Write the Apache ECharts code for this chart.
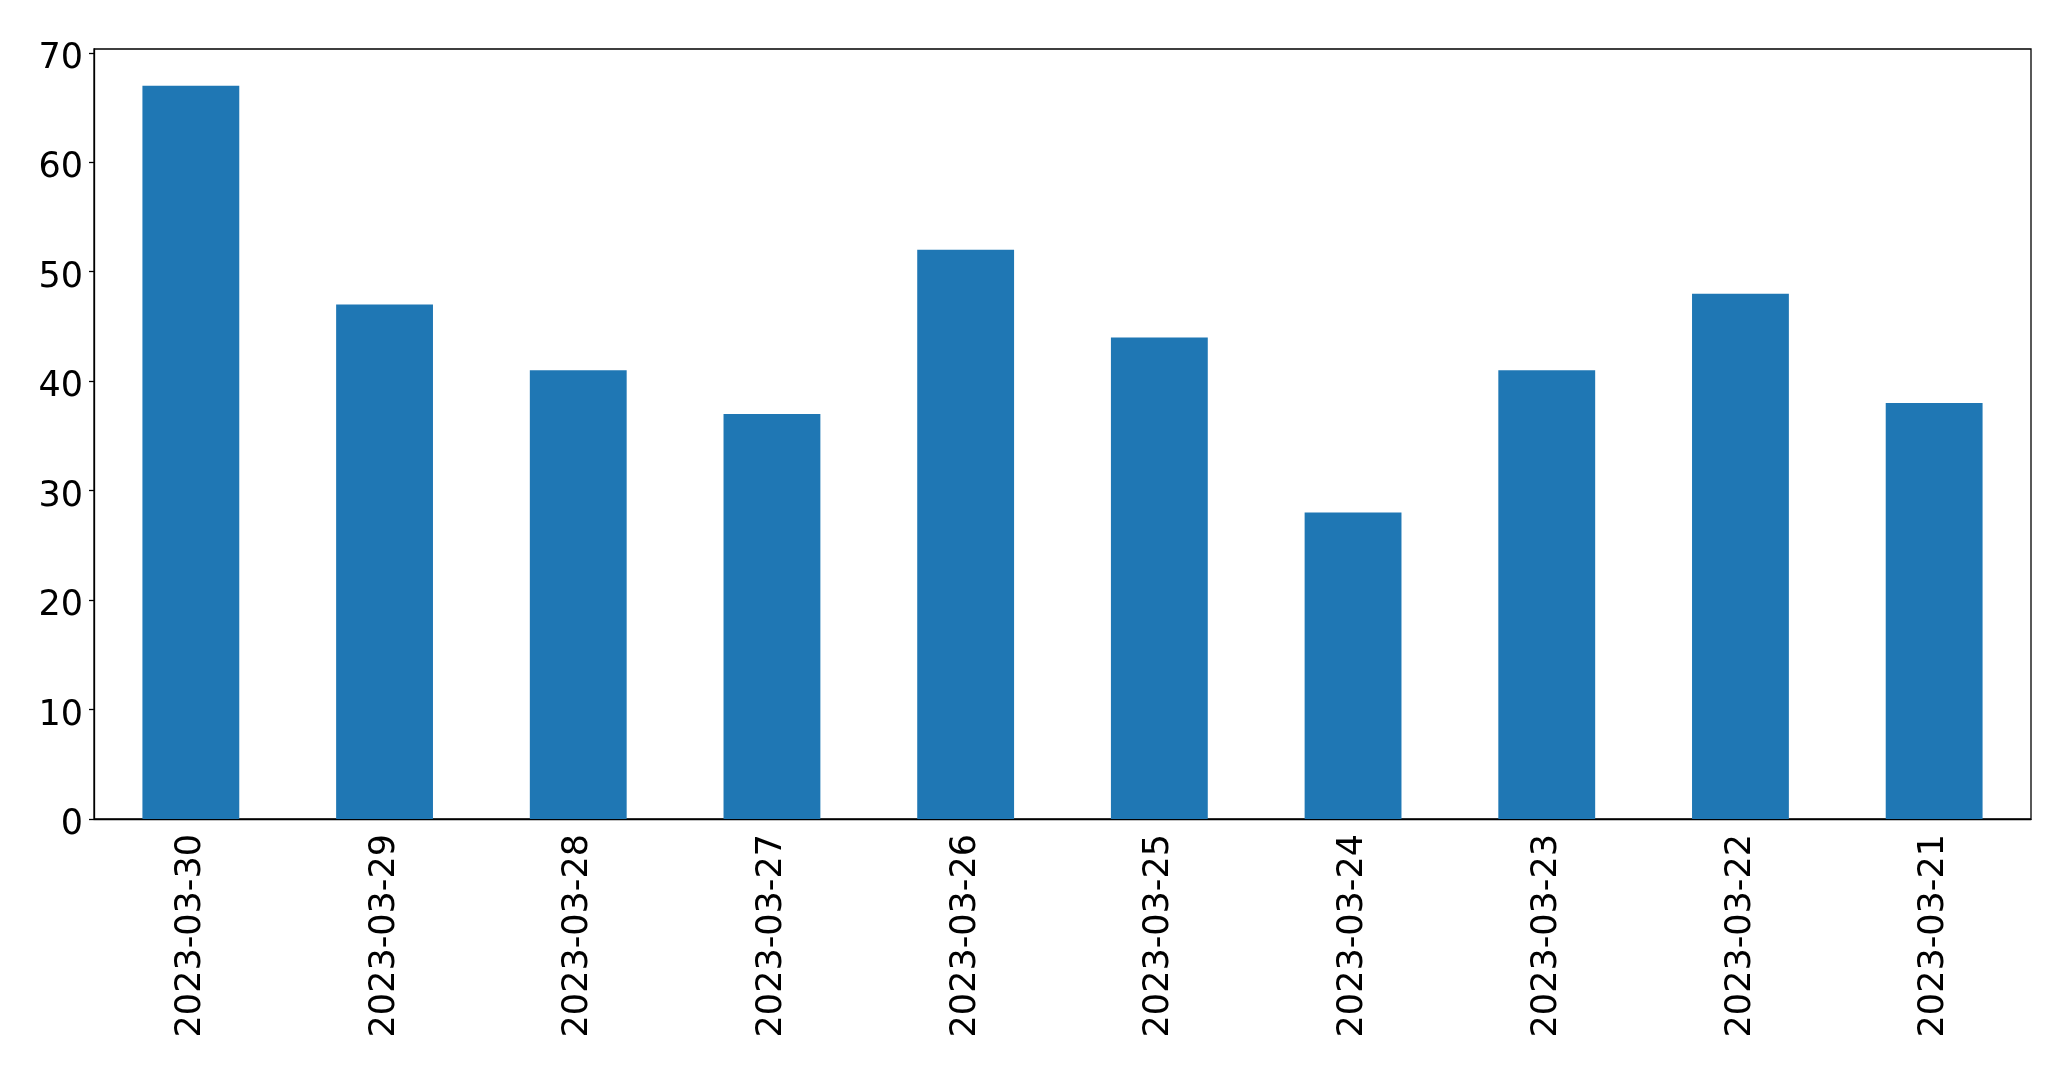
<!DOCTYPE HTML>
<html>
<head>
	<meta charset="utf-8" />
	<title>Bar chart</title>
	<script src="https://cdn.jsdelivr.net/npm/echarts@6/dist/echarts.min.js"></script>
	<style>
		html, body { margin: 0; padding: 0; background: #fff; }
		#main { width: 2071px; height: 1071px; }
	</style>
</head>
<body>
	<div id="main"></div>
	<script type="text/javascript">
		var dates = ["2023-03-30", "2023-03-29", "2023-03-28", "2023-03-27", "2023-03-26",
			"2023-03-25", "2023-03-24", "2023-03-23", "2023-03-22", "2023-03-21"];
		var counts = [67, 47, 41, 37, 52, 44, 28, 41, 48, 38];
		var yTicks = [0, 10, 20, 30, 40, 50, 60, 70];

		var myChart = echarts.init(document.getElementById("main"));

		var option = {
			animation: false,
			grid: {
				left: 94,
				right: 40,
				top: 49,
				bottom: 252,
				show: true,
				borderColor: "#000",
				borderWidth: 1.3
			},
			xAxis: {
				type: "category",
				data: dates,
				axisLine: { lineStyle: { color: "#000", width: 1.3 } },
				axisTick: { alignWithLabel: true, length: 5, lineStyle: { color: "#000", width: 1.3 } },
				axisLabel: {
					rotate: 90,
					margin: 15,
					color: "#000",
					fontSize: 35,
					fontFamily: "DejaVu Sans"
				}
			},
			yAxis: {
				type: "value",
				min: 0,
				max: 70.35,
				interval: 10,
				splitLine: { show: false },
				axisLine: { show: true, lineStyle: { color: "#000", width: 1.3 } },
				axisTick: { show: true, length: 5, customValues: yTicks, lineStyle: { color: "#000", width: 1.3 } },
				axisLabel: {
					margin: 11,
					customValues: yTicks,
					formatter: function (v) { return "{t|" + v + "}"; },
					rich: {
						t: {
							color: "#000",
							fontSize: 35,
							fontFamily: "DejaVu Sans",
							padding: [12, 0, 0, 0]
						}
					}
				}
			},
			series: [{
				type: "bar",
				data: counts,
				barWidth: "50%",
				itemStyle: { color: "#1f77b4" }
			}]
		};

		myChart.setOption(option);
	</script>
</body>
</html>
